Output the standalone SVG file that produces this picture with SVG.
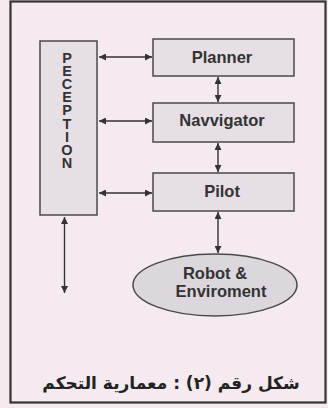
<svg xmlns="http://www.w3.org/2000/svg" width="328" height="408" viewBox="0 0 328 408">
<defs>
<style>
.box{fill:#e6dfe6;stroke:#4a4a4a;stroke-width:1.5}
.ell{fill:#dcd6dd;stroke:#4a4a4a;stroke-width:1.5}
.lbl{font-family:"Liberation Sans",Arial,sans-serif;font-weight:bold;font-size:16.5px;fill:#333;text-anchor:middle}
.vl{font-family:"Liberation Sans",Arial,sans-serif;font-weight:bold;font-size:14.5px;fill:#333;writing-mode:vertical-rl;text-orientation:upright;letter-spacing:-2.9px}
.conn line{stroke:#333;stroke-width:1.4;marker-start:url(#ah);marker-end:url(#ah)}
</style>
<marker id="ah" viewBox="0 0 10 10" refX="10" refY="5" markerWidth="9" markerHeight="7" markerUnits="userSpaceOnUse" orient="auto-start-reverse">
<path d="M0,0 L10,5 L0,10 z" fill="#333"/>
</marker>
</defs>
<rect x="0" y="0" width="328" height="408" fill="#f4eaef"/>
<rect x="10.5" y="1.5" width="315" height="401" fill="#f4eaef" stroke="#333" stroke-width="2.2"/>
<g id="perception">
<rect class="box" x="40" y="41" width="57" height="174"/>
<text class="vl" x="67" y="50">PECEPTION</text>
</g>
<g id="planner">
<rect class="box" x="153" y="39" width="141" height="37"/>
<text class="lbl" x="222" y="63">Planner</text>
</g>
<g id="navigator">
<rect class="box" x="153" y="103" width="141" height="39"/>
<text class="lbl" x="222" y="126">Navvigator</text>
</g>
<g id="pilot">
<rect class="box" x="153" y="173" width="141" height="38"/>
<text class="lbl" x="222" y="197">Pilot</text>
</g>
<g id="robot">
<ellipse class="ell" cx="215" cy="285" rx="82" ry="31"/>
<text class="lbl" x="215" y="279">Robot &amp;</text>
<text class="lbl" x="221" y="297">Enviroment</text>
</g>
<g id="connectors" class="conn">
<line x1="99" y1="57" x2="152" y2="57"/>
<line x1="99" y1="121" x2="152" y2="121"/>
<line x1="99" y1="193" x2="152" y2="193"/>
<line x1="218" y1="77" x2="218" y2="102"/>
<line x1="218" y1="143" x2="218" y2="172"/>
<line x1="218" y1="212" x2="218" y2="253"/>
<line x1="64.5" y1="217" x2="64.5" y2="293"/>
</g>
<g id="caption">
<text x="171" y="389" font-family="'DejaVu Sans',sans-serif" font-weight="bold" font-size="17" fill="#222" text-anchor="middle" direction="rtl">شكل رقم (٢) : معمارية التحكم</text>
</g>
</svg>
